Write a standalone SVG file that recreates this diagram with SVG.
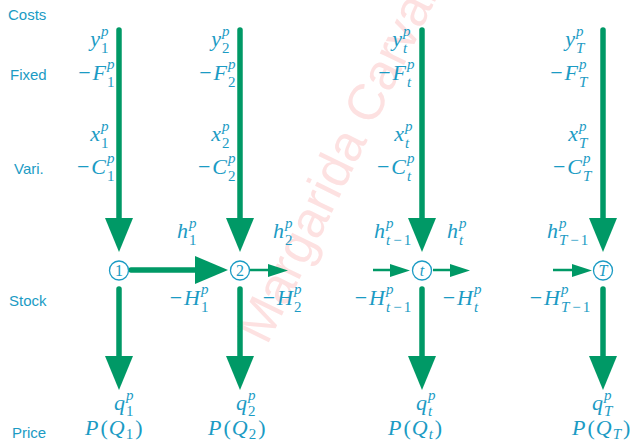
<svg xmlns="http://www.w3.org/2000/svg" width="638" height="440" viewBox="0 0 638 440">
<style>
.m{font-family:"Liberation Serif",serif;font-size:22px;fill:#1b9bc4}
.i{font-style:italic}
.s{font-size:15px}
.e{text-anchor:end}
.lab{font-family:"Liberation Sans",sans-serif;font-size:15px;fill:#1b9bc4}
.ln{stroke:#009966;stroke-width:5.5;stroke-linecap:round;fill:none}
.tn{stroke:#009966;stroke-width:2.5;fill:none}
.hd{fill:#009966}
.nd{fill:#fff;stroke:#1b9bc4;stroke-width:1.3}
.nt{font-family:"Liberation Serif",serif;font-size:16px;fill:#1b9bc4;text-anchor:middle}
</style>
<rect width="638" height="440" fill="#fff"/>
<text x="267" y="346" transform="rotate(-64 267 346)" font-family="Liberation Sans, sans-serif" font-size="51" fill="#fde1e1">Margarida Carvalho</text>

<g id="row-labels">
<text class="lab" x="8" y="20">Costs</text>
<text class="lab" x="10" y="80">Fixed</text>
<text class="lab" x="14" y="174">Vari.</text>
<text class="lab" x="9" y="306">Stock</text>
<text class="lab" x="12" y="438">Price</text>
</g>

<g id="connectors">
<line class="ln" x1="119" y1="30" x2="119" y2="220"/>
<polygon class="hd" points="105,218 133,218 119,252"/>
<line class="ln" x1="119" y1="289" x2="119" y2="358"/>
<polygon class="hd" points="105,356 133,356 119,390"/>
<line class="ln" x1="131" y1="270" x2="197" y2="270"/>
<polygon class="hd" points="195,256 195,284 228,270"/>
<line class="ln" x1="240" y1="30" x2="240" y2="220"/>
<polygon class="hd" points="226,218 254,218 240,252"/>
<line class="ln" x1="240" y1="289" x2="240" y2="358"/>
<polygon class="hd" points="226,356 254,356 240,390"/>
<line class="tn" x1="250" y1="270" x2="270" y2="270"/>
<polygon class="hd" points="268,264 268,277 288,270.5"/>
<line class="ln" x1="422" y1="30" x2="422" y2="220"/>
<polygon class="hd" points="408,218 436,218 422,252"/>
<line class="ln" x1="422" y1="289" x2="422" y2="358"/>
<polygon class="hd" points="408,356 436,356 422,390"/>
<line class="tn" x1="373" y1="270" x2="392" y2="270"/>
<polygon class="hd" points="390,264 390,277 410,270.5"/>
<line class="tn" x1="433" y1="270" x2="452" y2="270"/>
<polygon class="hd" points="450,264 450,277 470,270.5"/>
<line class="ln" x1="603" y1="30" x2="603" y2="220"/>
<polygon class="hd" points="589,218 617,218 603,252"/>
<line class="ln" x1="603" y1="289" x2="603" y2="358"/>
<polygon class="hd" points="589,356 617,356 603,390"/>
<line class="tn" x1="553" y1="270" x2="574" y2="270"/>
<polygon class="hd" points="572,264 572,277 592,270.5"/>
</g>

<g id="node-1">
<circle class="nd" cx="119" cy="270.5" r="9.5"/>
<text class="nt" x="119" y="276">1</text>
</g>
<g id="node-2">
<circle class="nd" cx="240" cy="270.5" r="9.5"/>
<text class="nt" x="240" y="276">2</text>
</g>
<g id="node-t">
<circle class="nd" cx="422" cy="270.5" r="9.5"/>
<text class="nt i" x="422" y="276">t</text>
</g>
<g id="node-T">
<circle class="nd" cx="603" cy="270.5" r="9.5"/>
<text class="nt i" x="603" y="276">T</text>
</g>

<g id="labels-1">
<text class="m i e" x="100" y="46">y</text><text class="m i s" x="101" y="36">p</text><text class="m s" x="101" y="53">1</text>
<text class="m e" x="106" y="80">−<tspan class="i" dx="2">F</tspan></text><text class="m i s" x="107" y="69">p</text><text class="m s" x="107" y="87">1</text>
<text class="m i e" x="100" y="141">x</text><text class="m i s" x="101" y="131">p</text><text class="m s" x="101" y="148">1</text>
<text class="m e" x="106" y="174">−<tspan class="i" dx="2">C</tspan></text><text class="m i s" x="107" y="163">p</text><text class="m s" x="107" y="181">1</text>
<text class="m i e" x="188" y="238">h</text><text class="m i s" x="189" y="228">p</text><text class="m s" x="189" y="245">1</text>
<text class="m e" x="200" y="305">−<tspan class="i" dx="2">H</tspan></text><text class="m i s" x="201" y="294">p</text><text class="m s" x="201" y="312">1</text>
<text class="m i e" x="125" y="410">q</text><text class="m i s" x="126" y="400">p</text><text class="m s" x="126" y="416">1</text>
<text class="m" x="85" y="435"><tspan class="i">P</tspan><tspan dx="2">(</tspan><tspan class="i" dx="1">Q</tspan><tspan class="s" dx="1" dy="4">1</tspan><tspan dx="2" dy="-4">)</tspan></text>
</g>

<g id="labels-2">
<text class="m i e" x="221" y="46">y</text><text class="m i s" x="222" y="36">p</text><text class="m s" x="222" y="53">2</text>
<text class="m e" x="227" y="80">−<tspan class="i" dx="2">F</tspan></text><text class="m i s" x="228" y="69">p</text><text class="m s" x="228" y="87">2</text>
<text class="m i e" x="221" y="141">x</text><text class="m i s" x="222" y="131">p</text><text class="m s" x="222" y="148">2</text>
<text class="m e" x="227" y="174">−<tspan class="i" dx="2">C</tspan></text><text class="m i s" x="228" y="163">p</text><text class="m s" x="228" y="181">2</text>
<text class="m i e" x="284" y="238">h</text><text class="m i s" x="285" y="228">p</text><text class="m s" x="285" y="245">2</text>
<text class="m e" x="293" y="305">−<tspan class="i" dx="2">H</tspan></text><text class="m i s" x="294" y="294">p</text><text class="m s" x="294" y="312">2</text>
<text class="m i e" x="247" y="410">q</text><text class="m i s" x="248" y="400">p</text><text class="m s" x="248" y="416">2</text>
<text class="m" x="208" y="435"><tspan class="i">P</tspan><tspan dx="2">(</tspan><tspan class="i" dx="1">Q</tspan><tspan class="s" dx="1" dy="4">2</tspan><tspan dx="2" dy="-4">)</tspan></text>
</g>

<g id="labels-t">
<text class="m i e" x="402" y="46">y</text><text class="m i s" x="403" y="36">p</text><text class="m i s" x="403" y="53">t</text>
<text class="m e" x="406" y="80">−<tspan class="i" dx="2">F</tspan></text><text class="m i s" x="407" y="69">p</text><text class="m i s" x="407" y="87">t</text>
<text class="m i e" x="404" y="141">x</text><text class="m i s" x="405" y="131">p</text><text class="m i s" x="405" y="148">t</text>
<text class="m e" x="406" y="174">−<tspan class="i" dx="2">C</tspan></text><text class="m i s" x="407" y="163">p</text><text class="m i s" x="407" y="181">t</text>
<text class="m i e" x="385" y="238">h</text><text class="m i s" x="386" y="228">p</text><text class="m s" x="386" y="245"><tspan class="i">t</tspan><tspan dx="3">−</tspan><tspan dx="2">1</tspan></text>
<text class="m i e" x="458" y="238">h</text><text class="m i s" x="459" y="228">p</text><text class="m i s" x="459" y="245">t</text>
<text class="m e" x="385" y="305">−<tspan class="i" dx="2">H</tspan></text><text class="m i s" x="386" y="294">p</text><text class="m s" x="386" y="312"><tspan class="i">t</tspan><tspan dx="3">−</tspan><tspan dx="2">1</tspan></text>
<text class="m e" x="473" y="305">−<tspan class="i" dx="2">H</tspan></text><text class="m i s" x="474" y="294">p</text><text class="m i s" x="474" y="312">t</text>
<text class="m i e" x="427" y="410">q</text><text class="m i s" x="428" y="400">p</text><text class="m i s" x="428" y="416">t</text>
<text class="m" x="388" y="435"><tspan class="i">P</tspan><tspan dx="2">(</tspan><tspan class="i" dx="1">Q</tspan><tspan class="s i" dx="1" dy="4">t</tspan><tspan dx="2" dy="-4">)</tspan></text>
</g>

<g id="labels-T">
<text class="m i e" x="575" y="46">y</text><text class="m i s" x="576" y="36">p</text><text class="m i s" x="576" y="53">T</text>
<text class="m e" x="578" y="80">−<tspan class="i" dx="2">F</tspan></text><text class="m i s" x="579" y="69">p</text><text class="m i s" x="579" y="87">T</text>
<text class="m i e" x="578" y="141">x</text><text class="m i s" x="579" y="131">p</text><text class="m i s" x="579" y="148">T</text>
<text class="m e" x="582" y="174">−<tspan class="i" dx="2">C</tspan></text><text class="m i s" x="583" y="163">p</text><text class="m i s" x="583" y="181">T</text>
<text class="m i e" x="558" y="238">h</text><text class="m i s" x="559" y="228">p</text><text class="m s" x="559" y="245"><tspan class="i">T</tspan><tspan dx="3">−</tspan><tspan dx="2">1</tspan></text>
<text class="m e" x="560" y="305">−<tspan class="i" dx="2">H</tspan></text><text class="m i s" x="561" y="294">p</text><text class="m s" x="561" y="312"><tspan class="i">T</tspan><tspan dx="3">−</tspan><tspan dx="2">1</tspan></text>
<text class="m i e" x="603" y="410">q</text><text class="m i s" x="604" y="400">p</text><text class="m i s" x="604" y="416">T</text>
<text class="m" x="572" y="435"><tspan class="i">P</tspan><tspan dx="2">(</tspan><tspan class="i" dx="1">Q</tspan><tspan class="s i" dx="1" dy="4">T</tspan><tspan dx="2" dy="-4">)</tspan></text>
</g>
</svg>
